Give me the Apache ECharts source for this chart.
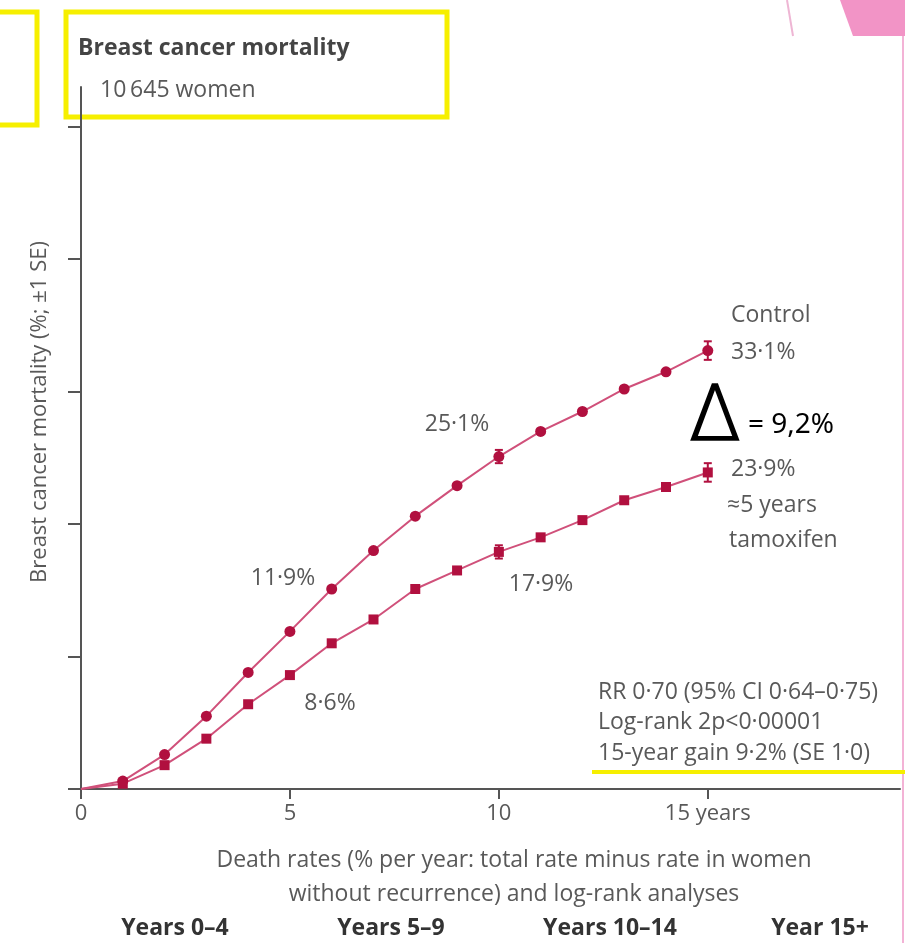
<!DOCTYPE html>
<html>
<head>
<meta charset="utf-8">
<script src="https://cdn.jsdelivr.net/npm/echarts@6/dist/echarts.min.js"></script>
<style>
html,body{margin:0;padding:0;background:#fff;}
#chart{width:905px;height:943px;}
</style>
</head>
<body>
<div id="chart"></div>
<script>
// ---- data ----
const years = [0,1,2,3,4,5,6,7,8,9,10,11,12,13,14,15];
const controlVals = [0, 0.6, 2.6, 5.5, 8.8, 11.9, 15.1, 18.0, 20.6, 22.9, 25.1, 27.0, 28.5, 30.2, 31.5, 33.1];
const tamoxVals   = [0, 0.4, 1.8, 3.8, 6.4, 8.6, 11.0, 12.8, 15.1, 16.5, 17.9, 19.0, 20.3, 21.8, 22.8, 23.9];
const seYears = [10, 15];
const controlSE = [0.5, 0.7];
const tamoxSE   = [0.5, 0.7];
const xTickValues = [0, 5, 10, 15];
const xTickLabels = ['0', '5', '10', '15 years'];
const yTickValues = [0, 10, 20, 30, 40, 50];
const periodLabels = ['Years 0–4', 'Years 5–9', 'Years 10–14', 'Year 15+'];

const FONT = '"Open Sans", "Noto Sans", sans-serif';
const GREY = '#595959';
const LINE = '#d0507a';
const MARK = '#b1103f';
const FS = 23;

function toData(vals){
  return years.map((y,i)=> i===0 ? {value:[y,vals[i]], symbol:'none'} : {value:[y,vals[i]]});
}
function errData(vals, se){
  return seYears.map((y,i)=>[y, vals[years.indexOf(y)]-se[i], vals[years.indexOf(y)]+se[i]]);
}
function errRender(params, api){
  const lo = api.coord([api.value(0), api.value(1)]);
  const hi = api.coord([api.value(0), api.value(2)]);
  const w = 4;
  return {type:'group', children:[
    {type:'line', shape:{x1:lo[0],y1:lo[1],x2:hi[0],y2:hi[1]}, style:{stroke:MARK,lineWidth:2}},
    {type:'line', shape:{x1:lo[0]-w,y1:lo[1],x2:lo[0]+w,y2:lo[1]}, style:{stroke:MARK,lineWidth:2}},
    {type:'line', shape:{x1:hi[0]-w,y1:hi[1],x2:hi[0]+w,y2:hi[1]}, style:{stroke:MARK,lineWidth:2}}
  ]};
}

const chart = echarts.init(document.getElementById('chart'), null, {renderer:'canvas'});

function txt(x, y, text, opts){
  return Object.assign({type:'text', x:x, y:y, style:Object.assign({
    text:text, fill:GREY, font:FS+'px '+FONT, textAlign:'left', textVerticalAlign:'middle'
  }, opts||{})});
}

const graphics = [
  // decorative slide elements
  {type:'polygon', shape:{points:[[840,0],[905,0],[905,36],[853,36]]}, style:{fill:'#f294c6'}},
  {type:'line', shape:{x1:787,y1:0,x2:793,y2:36}, style:{stroke:'#eeb6d4',lineWidth:2}},
  {type:'line', shape:{x1:903,y1:36,x2:903,y2:943}, style:{stroke:'#f3b3d6',lineWidth:2}},
  // yellow boxes
  {type:'rect', shape:{x:-10,y:12,width:47,height:113}, style:{fill:'none',stroke:'#f6ef00',lineWidth:5}},
  {type:'rect', shape:{x:66,y:12,width:381,height:105}, style:{fill:'none',stroke:'#f6ef00',lineWidth:5}},
  {type:'line', shape:{x1:592,y1:772,x2:905,y2:772}, style:{stroke:'#f6ef00',lineWidth:4}},
  // titles
  txt(78, 48, 'Breast cancer mortality', {font:'bold 23px '+FONT, fill:'#444'}),
  txt(100, 90, '10\u2009645 women', {font:'23px '+FONT}),
  // y axis name
  {type:'text', x:40, y:412, rotation:Math.PI/2, style:{text:'Breast cancer mortality (%; \u00b11 SE)', fill:GREY, font:'22px '+FONT, textAlign:'center', textVerticalAlign:'middle'}},
  // point labels
  txt(283, 578, '11·9%', {textAlign:'center'}),
  txt(330, 703, '8·6%', {textAlign:'center'}),
  txt(457, 424, '25·1%', {textAlign:'center'}),
  txt(541, 584, '17·9%', {textAlign:'center'}),
  // end labels
  txt(731, 315, 'Control'),
  txt(731, 352, '33·1%'),
  txt(731, 469, '23·9%'),
  txt(727, 505, '\u22485 years'),
  txt(729, 540, 'tamoxifen'),
  // delta annotation
  txt(715, 420, '\u0394', {font:'200 76px "DejaVu Sans", sans-serif', fill:'#000', stroke:'#000', lineWidth:1.6, textAlign:'center'}),
  txt(748, 425, '= 9,2%', {font:'28px "Noto Sans", sans-serif', fill:'#000'}),
  // stats
  txt(598, 692, 'RR 0·70 (95% CI 0·64–0·75)'),
  txt(598, 722, 'Log-rank 2p<0·00001'),
  txt(598, 753, '15-year gain 9·2% (SE 1·0)'),
  // x axis title
  txt(514, 860, 'Death rates (% per year: total rate minus rate in women', {textAlign:'center'}),
  txt(514, 894, 'without recurrence) and log-rank analyses', {textAlign:'center'})
];
const periodX = [175, 391, 610, 820];
periodLabels.forEach((l,i)=>graphics.push(txt(periodX[i], 928, l, {font:'bold 23px '+FONT, fill:'#333', textAlign:'center'})));

chart.setOption({
  animation:false,
  backgroundColor:'#fff',
  grid:{left:81, right:5, top:87, bottom:154, containLabel:false},
  xAxis:{
    type:'value', min:0, max:19.6,
    axisLine:{show:true, lineStyle:{color:'#555', width:2}},
    axisTick:{show:true, length:10, customValues:xTickValues, lineStyle:{color:'#555', width:2}},
    axisLabel:{show:true, customValues:xTickValues, margin:14, color:GREY, fontFamily:FONT, fontSize:22,
      formatter:(v)=>xTickLabels[xTickValues.indexOf(v)] || ''},
    splitLine:{show:false}
  },
  yAxis:{
    type:'value', min:0, max:53,
    axisLine:{show:true, lineStyle:{color:'#555', width:2}},
    axisTick:{show:true, length:13, customValues:yTickValues, lineStyle:{color:'#555', width:2}},
    axisLabel:{show:false},
    splitLine:{show:false}
  },
  series:[
    {type:'line', name:'Control', data:toData(controlVals), symbol:'circle', symbolSize:11,
      lineStyle:{color:LINE, width:2}, itemStyle:{color:MARK}, z:3},
    {type:'line', name:'Tamoxifen', data:toData(tamoxVals), symbol:'rect', symbolSize:10,
      lineStyle:{color:LINE, width:2}, itemStyle:{color:MARK}, z:3},
    {type:'custom', data:errData(controlVals, controlSE), renderItem:errRender, z:4},
    {type:'custom', data:errData(tamoxVals, tamoxSE), renderItem:errRender, z:4}
  ],
  graphic:graphics
});
</script>
</body>
</html>
